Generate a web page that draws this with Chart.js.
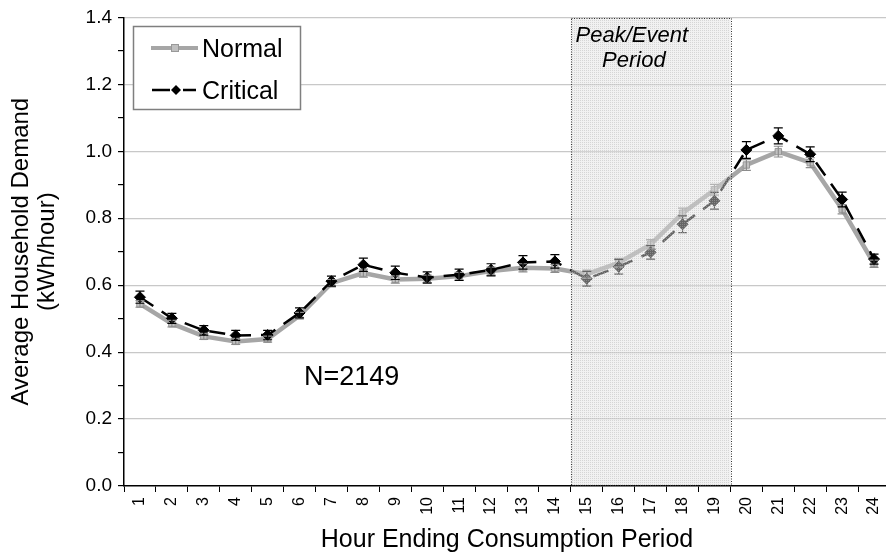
<!DOCTYPE html>
<html>
<head>
<meta charset="utf-8">
<script src="https://cdn.jsdelivr.net/npm/chart.js@4.4.0/dist/chart.umd.min.js"></script>
<style>
html,body{margin:0;padding:0;background:#fff;overflow:hidden;}
#wrap{width:886px;height:557px;overflow:hidden;position:relative;}
canvas{display:block;}
</style>
</head>
<body>
<div id="wrap"><canvas id="c" width="900" height="557"></canvas></div>
<script>
// ---- data ----
const hours = ["1","2","3","4","5","6","7","8","9","10","11","12","13","14","15","16","17","18","19","20","21","22","23","24"];
const normalValues   = [0.544,0.485,0.447,0.432,0.439,0.509,0.606,0.636,0.617,0.619,0.627,0.642,0.652,0.650,0.633,0.667,0.722,0.815,0.885,0.959,0.999,0.966,0.827,0.664];
const criticalValues = [0.564,0.501,0.465,0.450,0.451,0.517,0.612,0.661,0.637,0.623,0.631,0.646,0.668,0.671,0.619,0.655,0.698,0.782,0.852,1.004,1.046,0.991,0.856,0.678];
const normalErr   = [0.010,0.010,0.009,0.009,0.009,0.010,0.011,0.012,0.011,0.011,0.011,0.012,0.012,0.012,0.012,0.013,0.014,0.015,0.016,0.016,0.016,0.015,0.014,0.011];
const criticalErr = [0.018,0.015,0.014,0.015,0.014,0.015,0.015,0.020,0.020,0.017,0.017,0.018,0.020,0.020,0.022,0.022,0.020,0.025,0.025,0.025,0.024,0.022,0.022,0.015];
const yTickLabels = ["0.0","0.2","0.4","0.6","0.8","1.0","1.2","1.4"];
const peakStart = "15", peakEnd = "19";
const FONT = "'Liberation Sans', Arial, sans-serif";

const errorBars = {
  id: 'errorBars',
  afterDatasetsDraw(chart) {
    const ctx = chart.ctx, xs = chart.scales.x, ys = chart.scales.y;
    const sets = [[normalValues, normalErr, '#8c8c8c'], [criticalValues, criticalErr, '#000']];
    ctx.save();
    sets.forEach(([vals, errs, col]) => {
      ctx.strokeStyle = col; ctx.lineWidth = 1.2;
      vals.forEach((v, i) => {
        const x = xs.getPixelForValue(i);
        const y1 = ys.getPixelForValue(v + errs[i]);
        const y2 = ys.getPixelForValue(v - errs[i]);
        ctx.beginPath();
        ctx.moveTo(x, y1); ctx.lineTo(x, y2);
        ctx.moveTo(x - 4.5, y1); ctx.lineTo(x + 4.5, y1);
        ctx.moveTo(x - 4.5, y2); ctx.lineTo(x + 4.5, y2);
        ctx.stroke();
      });
    });
    ctx.restore();
  }
};

const peakBox = {
  id: 'peakBox',
  afterDatasetsDraw(chart) {
    const ctx = chart.ctx, xs = chart.scales.x, ys = chart.scales.y;
    const i0 = hours.indexOf(peakStart), i1 = hours.indexOf(peakEnd);
    const left = (xs.getPixelForValue(i0 - 1) + xs.getPixelForValue(i0)) / 2;
    const right = (xs.getPixelForValue(i1) + xs.getPixelForValue(i1 + 1)) / 2;
    const top = ys.getPixelForValue(1.4) + 1;
    const bottom = ys.getPixelForValue(0) - 1;
    // dotted pattern fill
    const pc = document.createElement('canvas'); pc.width = 2; pc.height = 2;
    const p = pc.getContext('2d');
    p.fillStyle = 'rgba(225,225,225,0.45)'; p.fillRect(0, 0, 2, 2);
    p.fillStyle = 'rgba(180,180,180,0.45)'; p.fillRect(0, 0, 1, 1);
    ctx.save();
    ctx.fillStyle = ctx.createPattern(pc, 'repeat');
    ctx.fillRect(left, top, right - left, bottom - top);
    ctx.strokeStyle = '#333'; ctx.lineWidth = 1; ctx.setLineDash([1, 1.5]);
    ctx.strokeRect(Math.round(left) + 0.5, Math.round(top) + 0.5, Math.round(right - left), Math.round(bottom - top));
    ctx.setLineDash([]);
    ctx.fillStyle = '#000';
    ctx.font = 'italic 22px ' + FONT;
    ctx.textAlign = 'center'; ctx.textBaseline = 'alphabetic';
    ctx.fillText('Peak/Event', left + 61, 42);
    ctx.fillText('Period', left + 63, 67);
    ctx.restore();
  }
};

const annotations = {
  id: 'annotations',
  afterDraw(chart) {
    const ctx = chart.ctx;
    ctx.save();
    // legend box
    ctx.strokeStyle = '#7f7f7f'; ctx.lineWidth = 1.5;
    ctx.fillStyle = '#fff';
    ctx.fillRect(133, 26, 167, 83);
    ctx.strokeRect(133.5, 26.5, 167, 83);
    // Normal sample
    ctx.strokeStyle = '#a6a6a6'; ctx.lineWidth = 4;
    ctx.beginPath(); ctx.moveTo(151, 48); ctx.lineTo(198, 48); ctx.stroke();
    ctx.fillStyle = '#c0c0c0'; ctx.strokeStyle = '#999'; ctx.lineWidth = 1;
    ctx.fillRect(171, 44, 8, 8); ctx.strokeRect(171.5, 44.5, 7, 7);
    // Critical sample
    ctx.strokeStyle = '#000'; ctx.lineWidth = 2.5;
    ctx.beginPath(); ctx.moveTo(152, 90); ctx.lineTo(170, 90); ctx.moveTo(183, 90); ctx.lineTo(196, 90); ctx.stroke();
    ctx.fillStyle = '#000';
    ctx.beginPath(); ctx.moveTo(176, 85); ctx.lineTo(181, 90); ctx.lineTo(176, 95); ctx.lineTo(171, 90); ctx.closePath(); ctx.fill();
    ctx.font = '25px ' + FONT; ctx.textAlign = 'left'; ctx.textBaseline = 'alphabetic';
    ctx.fillText('Normal', 202, 57);
    ctx.fillText('Critical', 202, 99);
    // N label
    ctx.font = '27px ' + FONT;
    ctx.fillText('N=2149', 304, 385);
    ctx.restore();
  }
};

new Chart(document.getElementById('c'), {
  type: 'line',
  data: {
    labels: hours,
    datasets: [
      {
        label: 'Normal', data: normalValues, order: 1,
        borderColor: '#a6a6a6', borderWidth: 4.5,
        pointStyle: 'rect', pointRadius: 4.5,
        pointBackgroundColor: '#c0c0c0', pointBorderColor: '#969696', pointBorderWidth: 1,
        tension: 0
      },
      {
        label: 'Critical', data: criticalValues, order: 0,
        borderColor: '#000', borderWidth: 2.5, borderDash: [16, 10],
        pointStyle: 'rectRot', pointRadius: 5.5,
        pointBackgroundColor: '#000', pointBorderColor: '#000', pointBorderWidth: 1,
        tension: 0
      }
    ]
  },
  options: {
    responsive: false,
    animation: false,
    layout: { padding: { top: 16, right: 10, left: 0, bottom: 0 } },
    plugins: { legend: { display: false }, tooltip: { enabled: false } },
    scales: {
      x: {
        type: 'category', offset: true,
        grid: { offset: true, color: 'rgba(0,0,0,0)', tickColor: '#000', tickLength: 6, drawOnChartArea: false },
        border: { color: '#000', width: 1.5 },
        ticks: { color: '#000', font: { family: FONT, size: 16 }, minRotation: 90, maxRotation: 90, padding: 5, autoSkip: false },
        title: { display: true, text: 'Hour Ending Consumption Period', color: '#000', font: { family: FONT, size: 25 }, padding: { top: 0, bottom: 2 } },
        afterFit(s) { s.height = 71; }
      },
      y: {
        min: 0, max: 1.4,
        ticks: {
          stepSize: 0.1, color: '#000', font: { family: FONT, size: 19 }, padding: 6,
          callback: (v, i) => (i % 2 === 0 ? yTickLabels[i / 2] : '')
        },
        grid: {
          color: (c) => (c.index % 2 === 0 && c.index > 0 ? '#c8c8c8' : 'rgba(0,0,0,0)'),
          tickColor: '#000', tickLength: 6, lineWidth: 1.2
        },
        border: { color: '#000', width: 1.5 },
        title: { display: true, text: ['Average Household Demand', '(kWh/hour)'], color: '#000', font: { family: FONT, size: 24, lineHeight: 1.1 }, padding: { top: 8, bottom: 0 } },
        afterFit(s) { s.width = 124; }
      }
    }
  },
  plugins: [errorBars, peakBox, annotations]
});
</script>
</body>
</html>
